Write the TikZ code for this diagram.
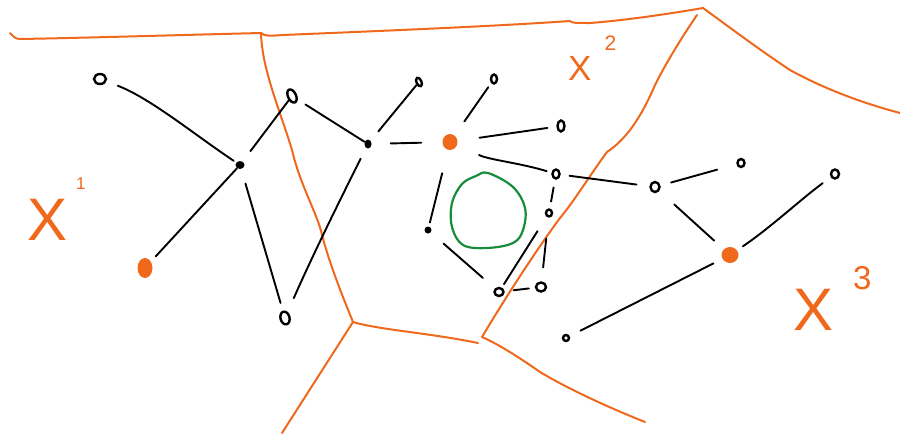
\documentclass[tikz,border=0pt]{standalone}
\usepackage{fontspec}
\newfontfamily\handfont{Liberation Sans}
\usetikzlibrary{shapes.geometric}
\definecolor{orng}{RGB}{240,104,28}
\definecolor{grn}{RGB}{22,140,60}
\tikzset{
  bord/.style={draw=orng, line width=2pt, line cap=round, line join=round},
  edg/.style={draw=black, line width=1.9pt, line cap=round},
  vtx/.style={ellipse, draw=black, line width=2.4pt, inner sep=0pt, minimum width=6pt, minimum height=9pt},
  bdot/.style={ellipse, fill=black, inner sep=0pt, minimum width=9pt, minimum height=8pt},
  odot/.style={ellipse, fill=orng, inner sep=0pt, minimum width=16pt, minimum height=17pt},
  lbl/.style={text=orng, inner sep=0pt, anchor=base west},
}
\begin{document}
\begin{tikzpicture}[x=1pt,y=-1pt]
\useasboundingbox (0,0) rectangle (900,434);
% junctions of the borders
\coordinate (j1) at (261,33);
\coordinate (j2) at (353,322);
\coordinate (j3) at (482,337);
\coordinate (j4) at (703,8);
% orange borders
\draw[bord] (10,33) .. controls (13,36) and (15,39) .. (20,39)
  .. controls (80,38) and (180,35) .. (j1);
\draw[bord] (j1) .. controls (264,36) and (270,36) .. (283,35)
  .. controls (380,31) and (500,26) .. (570,21)
  .. controls (572,23) and (575,23) .. (590,23)
  .. controls (630,20) and (680,12) .. (j4);
\draw[bord] (j4) .. controls (740,35) and (760,50) .. (790,70)
  .. controls (830,92) and (870,105) .. (900,113);
\draw[bord] (j1) .. controls (262,70) and (280,110) .. (292,150)
  .. controls (300,185) and (318,215) .. (322,235)
  .. controls (330,265) and (342,295) .. (j2);
\draw[bord] (j2) -- (282,433);
\draw[bord] (j2) .. controls (380,330) and (430,333) .. (478,343);
\draw[bord] (697,15) .. controls (680,40) and (665,65) .. (655,85)
  .. controls (640,120) and (625,140) .. (607,152)
  .. controls (590,175) and (575,200) .. (560,218)
  .. controls (540,245) and (510,290) .. (j3);
\draw[bord] (j3) .. controls (500,345) and (520,358) .. (540,372)
  .. controls (570,390) and (610,408) .. (645,422);
% green cycle
\draw[draw=grn, line width=2.2pt] plot[smooth cycle, tension=0.6] coordinates {
  (488,173) (513,187) (525,208) (523,230) (513,243) (487,248) (463,245)
  (452,227) (452,203) (462,184) (476,176)};
% nodes
\node[vtx, minimum width=12pt, minimum height=10pt] (A) at (100,79) {};
\node[bdot] (B) at (240,165) {};
\node[vtx, rotate=25, minimum width=8pt, minimum height=14pt] (C) at (292,96) {};
\node[vtx, rotate=15, minimum width=9pt, minimum height=13pt] (D) at (285,318) {};
\node[bdot, minimum width=7pt, minimum height=9pt] (E) at (368,144) {};
\node[vtx, rotate=25, minimum width=5pt, minimum height=9pt] (F) at (419,82) {};
\node[odot, minimum width=15pt, minimum height=16pt] (G) at (450,142) {};
\node[vtx, minimum width=6pt, minimum height=9pt] (H) at (494,79) {};
\node[vtx, minimum width=7pt, minimum height=11pt] (I) at (561,126) {};
\node[vtx, minimum width=7pt, minimum height=9pt] (J) at (556,174) {};
\node[vtx, minimum width=9pt, minimum height=10pt] (K) at (655,187) {};
\node[vtx, minimum width=7pt, minimum height=8pt] (L) at (741,163) {};
\node[vtx, minimum width=8pt, minimum height=9pt] (M) at (835,174) {};
\node[odot, minimum width=17pt, minimum height=16pt] (N) at (730,255) {};
\node[vtx, minimum width=6pt, minimum height=6pt] (O) at (566,338) {};
\node[vtx, minimum width=6pt, minimum height=7pt] (P) at (549,213) {};
\node[vtx, minimum width=9pt, minimum height=8pt] (Q) at (499,292) {};
\node[vtx, minimum width=10pt, minimum height=9pt] (R) at (541,287) {};
\node[bdot, minimum width=7pt, minimum height=7pt] (S) at (428,230) {};
\node[odot, minimum width=15pt, minimum height=20pt] (T) at (145,268) {};
% edges
\draw[edg, shorten <=12pt, shorten >=3pt] (A) .. controls (150,98) and (195,135) .. (B);
\draw[edg, shorten >=13pt] (C) -- (B);
\draw[edg, shorten >=7pt] (B) -- (T);
\draw[edg, shorten <=15pt, shorten >=8pt] (B) -- (D);
\draw[edg, shorten <=15pt, shorten >=12pt] (D) .. controls (315,250) and (345,190) .. (E);
\draw[edg, shorten <=9pt] (C) -- (E);
\draw[edg, shorten <=12pt] (E) -- (F);
\draw[edg, shorten <=19pt, shorten >=21pt] (E) -- (G);
\draw[edg, shorten <=5pt, shorten >=17pt] (H) -- (G);
\draw[edg, shorten <=22pt, shorten >=9pt] (G) -- (I);
\draw[edg, shorten <=24pt, shorten >=5pt] (G) .. controls (490,160) and (520,163) .. (J);
\draw[edg, shorten <=9pt, shorten >=13pt] (J) -- (K);
\draw[edg, shorten <=11pt, shorten >=20pt] (K) -- (L);
\draw[edg, shorten <=10pt, shorten >=7pt] (M) .. controls (800,200) and (770,228) .. (N);
\draw[edg, shorten <=20pt, shorten >=13pt] (K) -- (N);
\draw[edg, shorten <=10pt, shorten >=12pt] (N) -- (O);
\draw[edg, shorten <=8pt, shorten >=7pt] (J) -- (P);
\draw[edg, shorten <=17pt, shorten >=4pt] (P) -- (Q);
\draw[edg, shorten <=9pt, shorten >=6pt] (Q) -- (R);
\draw[edg, shorten <=14pt, shorten >=21pt] (R) -- (P);
\draw[edg, shorten <=24pt, shorten >=4pt] (G) -- (S);
\draw[edg, shorten <=17pt, shorten >=16pt] (S) -- (Q);
% labels
\node[lbl] (x1) at (27,240) {\handfont\fontsize{60}{60}\selectfont X\hspace{9pt}\raisebox{51pt}{\fontsize{17}{17}\selectfont 1}};
\node[lbl] (x2) at (568,80) {\handfont\fontsize{35}{35}\selectfont X\hspace{13pt}\raisebox{30pt}{\fontsize{21}{21}\selectfont 2}};
\node[lbl] (x3) at (793,330) {\handfont\fontsize{60}{60}\selectfont X\hspace{20pt}\raisebox{41pt}{\fontsize{33}{33}\selectfont 3}};
\end{tikzpicture}
\end{document}
